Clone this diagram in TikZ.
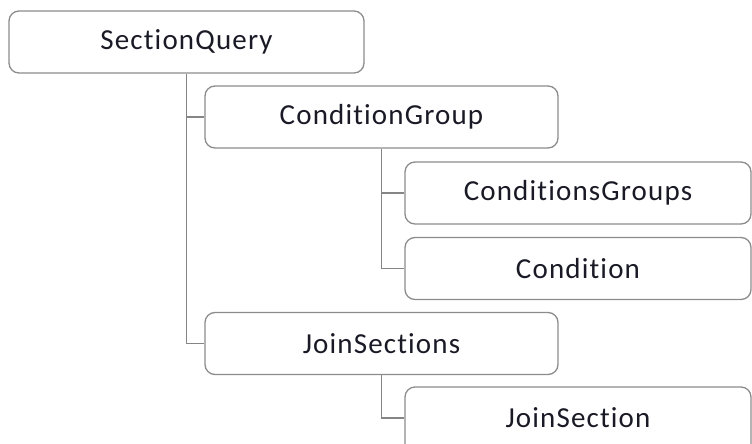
\documentclass[tikz,border=0pt]{standalone}
\usepackage{fontspec}
\setmainfont{Carlito}[Ligatures=NoCommon, LetterSpace=4]
\definecolor{boxline}{HTML}{8C8C8C}
\definecolor{linkline}{HTML}{858585}
\definecolor{labeltext}{HTML}{1A1A26}
\begin{document}
\begin{tikzpicture}[x=1pt,y=-1pt,
  treebox/.style={draw=boxline, line width=1.3pt, fill=white, rounded corners=10pt,
    rectangle, minimum height=62pt, inner sep=0pt, text=labeltext,
    font=\fontsize{29}{34}\selectfont},
  link/.style={draw=linkline, line width=1.3pt}]
  \useasboundingbox (0,0) rectangle (752,444);
  \clip (0,0) rectangle (752,444);

  % tree nodes
  \node[treebox, minimum width=355pt] (sq)   at (186.5, 42)   {SectionQuery};
  \node[treebox, minimum width=353pt] (cg)   at (381.5,117)   {ConditionGroup};
  \node[treebox, minimum width=346pt] (cgs)  at (578,  193)   {ConditionsGroups};
  \node[treebox, minimum width=346pt] (cond) at (578,  268.5) {Condition};
  \node[treebox, minimum width=353pt] (js)   at (381.5,343.5) {JoinSections};
  % the last box runs past the lower edge of the page; its label sits
  % at the height of the incoming link
  \node[treebox, minimum width=346pt, minimum height=76pt]
                                      (jsn)  at (578,  425)   {\raisebox{14pt}{JoinSection}};

  % connectors
  \draw[link] (sq.south) |- (cg.west);
  \draw[link] (sq.south) |- (js.west);
  \draw[link] (cg.south) |- (cgs.west);
  \draw[link] (cg.south) |- (cond.west);
  \draw[link] (js.south) |- ([yshift=7pt]jsn.west);
\end{tikzpicture}
\end{document}
